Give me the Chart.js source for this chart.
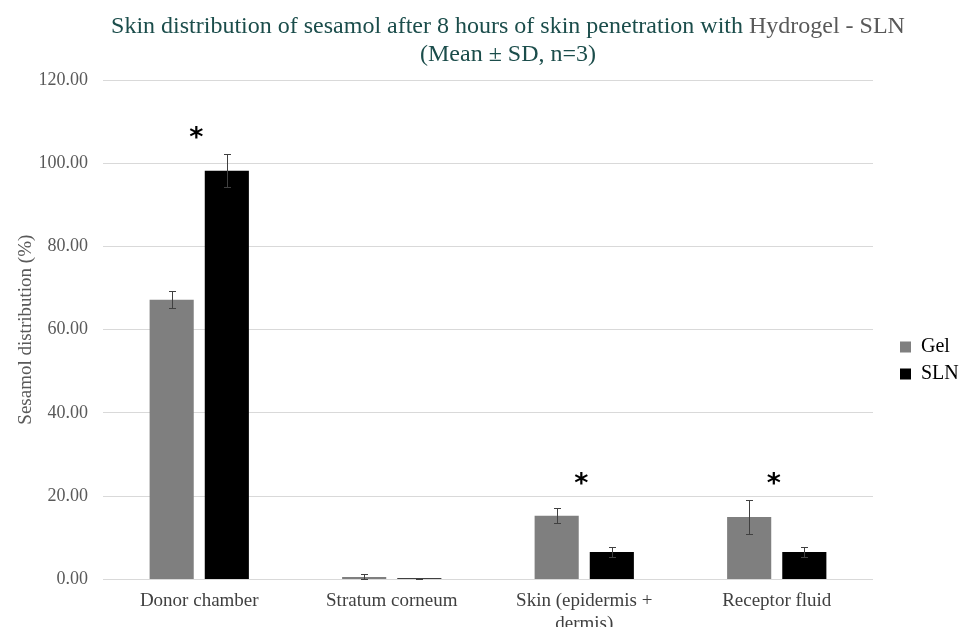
<!DOCTYPE html>
<html>
<head>
<meta charset="utf-8">
<script src="https://cdn.jsdelivr.net/npm/chart.js@4.4.1/dist/chart.umd.min.js"></script>
<style>
  html, body { margin: 0; padding: 0; background: #fff; overflow: hidden; }
  #wrap { position: relative; width: 960px; height: 645px; }
</style>
</head>
<body>
<div id="wrap"><canvas id="chart"></canvas></div>
<script>
// ---- data ----
const CATEGORIES = ['Donor chamber', 'Stratum corneum', ['Skin (epidermis +', 'dermis)'], 'Receptor fluid'];
const GEL_MEAN = [67.2, 0.6, 15.3, 15.0];
const GEL_SD   = [2.0, 0.6, 1.8, 4.0];
const SLN_MEAN = [98.2, 0.3, 6.6, 6.6];
const SLN_SD   = [4.0, 0.1, 1.2, 1.2];
const SIG_AT   = [107, null, 24, 24];   // where the * sits (null = not significant)
const Y_TICKS  = [0, 20, 40, 60, 80, 100, 120];

const SERIF = '"Liberation Serif", "DejaVu Serif", serif';
const GRID_COLOR = '#d9d9d9';

// error bars, drawn from each bar's own position
const errorBars = {
  id: 'errorBars',
  afterDatasetsDraw(chart) {
    const ctx = chart.ctx, y = chart.scales.y;
    ctx.save();
    ctx.strokeStyle = '#404040';
    ctx.lineWidth = 1;
    chart.data.datasets.forEach((ds, i) => {
      chart.getDatasetMeta(i).data.forEach((bar, j) => {
        const m = ds.data[j], sd = ds.sd[j];
        const hi = Math.round(y.getPixelForValue(m + sd)) + 0.5;
        const lo = Math.round(y.getPixelForValue(Math.max(0, m - sd))) + 0.5;
        const x = Math.round(bar.x) + 0.5;
        ctx.beginPath();
        ctx.moveTo(x, hi); ctx.lineTo(x, lo);
        ctx.moveTo(x - 3.5, hi); ctx.lineTo(x + 3.5, hi);
        ctx.moveTo(x - 3.5, lo); ctx.lineTo(x + 3.5, lo);
        ctx.stroke();
      });
    });
    ctx.restore();
  }
};

// significance asterisks over each category
const stars = {
  id: 'stars',
  afterDatasetsDraw(chart) {
    const ctx = chart.ctx, x = chart.scales.x, y = chart.scales.y;
    ctx.save();
    ctx.fillStyle = '#000';
    ctx.font = 'bold 27px "DejaVu Sans", sans-serif';
    ctx.textAlign = 'center';
    ctx.textBaseline = 'middle';
    SIG_AT.forEach((v, j) => {
      if (v == null) return;
      ctx.fillText('*', x.getPixelForValue(j) - 3, y.getPixelForValue(v) + 5);
    });
    ctx.restore();
  }
};

// two-colour title like the original
const titleText = {
  id: 'titleText',
  afterDraw(chart) {
    const ctx = chart.ctx;
    const cx = 508;
    const a = 'Skin distribution of sesamol after 8 hours of skin penetration with ';
    const b = 'Hydrogel - SLN';
    ctx.save();
    ctx.font = '24px ' + SERIF;
    ctx.textBaseline = 'middle';
    ctx.textAlign = 'left';
    const wa = ctx.measureText(a).width, wb = ctx.measureText(b).width;
    const x0 = cx - (wa + wb) / 2;
    ctx.fillStyle = '#1b4d4b';
    ctx.fillText(a, x0, 27);
    ctx.fillStyle = '#595959';
    ctx.fillText(b, x0 + wa, 27);
    ctx.fillStyle = '#1b4d4b';
    ctx.textAlign = 'center';
    ctx.fillText('(Mean \u00b1 SD, n=3)', cx, 55);
    ctx.restore();
  }
};

// legend: reserve a wider strip on the right, then push the items towards the edge
const legendSpace = {
  id: 'legendSpace',
  afterInit(chart) {
    const lg = chart.legend;
    const fit = lg.fit.bind(lg);
    lg.fit = function () { fit(); this.width = 87; };
  },
  afterLayout(chart) {
    chart.legend.left += 20;
    chart.legend.top -= 4;
  }
};

new Chart(document.getElementById('chart'), {
  type: 'bar',
  data: {
    labels: CATEGORIES,
    datasets: [
      { label: 'Gel', data: GEL_MEAN, sd: GEL_SD, backgroundColor: '#7f7f7f' },
      { label: 'SLN', data: SLN_MEAN, sd: SLN_SD, backgroundColor: '#000000' }
    ]
  },
  options: {
    responsive: true,
    maintainAspectRatio: false,
    animation: false,
    categoryPercentage: 0.573,
    barPercentage: 0.8,
    layout: { padding: { top: 80, left: 15, right: 0, bottom: 0 } },
    plugins: {
      legend: {
        position: 'right',
        labels: {
          color: '#000',
          font: { family: SERIF, size: 20 },
          boxWidth: 11, boxHeight: 11,
          padding: 7
        }
      },
      tooltip: { enabled: false }
    },
    scales: {
      y: {
        min: 0, max: 120,
        afterBuildTicks: ax => { ax.ticks = Y_TICKS.map(v => ({ value: v })); },
        afterFit: ax => { ax.width = 88; },
        ticks: {
          color: '#595959',
          font: { family: SERIF, size: 18 },
          padding: 15,
          callback: v => v.toFixed(2)
        },
        grid: { color: GRID_COLOR, drawTicks: false },
        border: { display: false },
        title: {
          display: true, text: 'Sesamol distribution (%)',
          color: '#595959', font: { family: SERIF, size: 19 }, padding: 0
        }
      },
      x: {
        ticks: {
          color: '#404040',
          font: { family: SERIF, size: 19 },
          maxRotation: 0, padding: 10
        },
        grid: { display: false, drawTicks: false },
        border: { display: false }
      }
    }
  },
  plugins: [legendSpace, errorBars, stars, titleText]
});
</script>
</body>
</html>
